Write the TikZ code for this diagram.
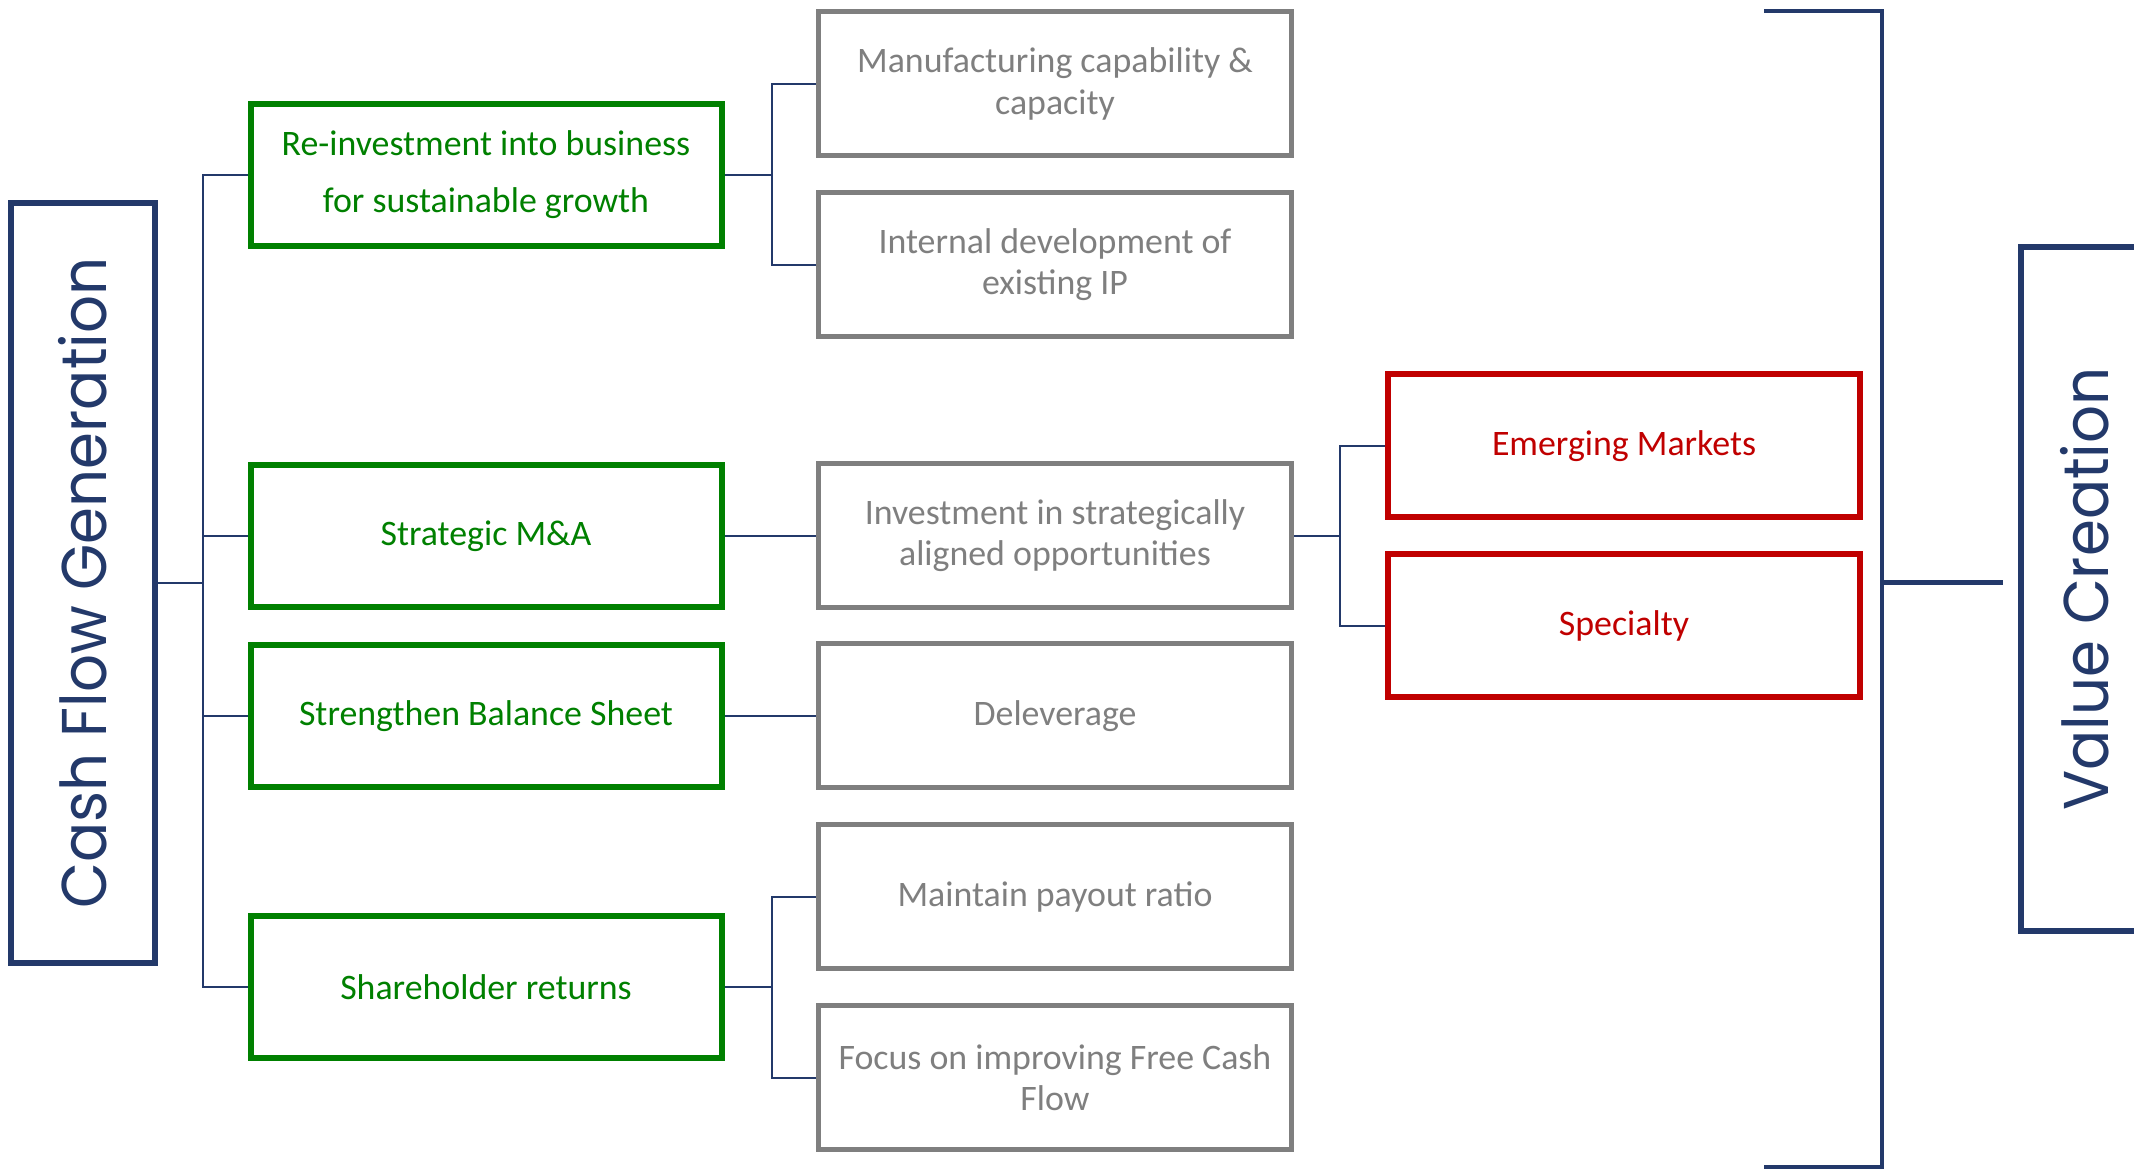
\documentclass[tikz,border=0pt]{standalone}
\usepackage{fontspec}
\setmainfont{Carlito}
\newfontfamily\headfont{Poppins}
\usepackage{graphicx}
\usetikzlibrary{positioning}
\definecolor{navy}{HTML}{23396A}
\definecolor{leafgreen}{HTML}{008000}
\definecolor{darkred}{HTML}{C00000}
\definecolor{midgray}{HTML}{7F7F7F}

\begin{document}
\begin{tikzpicture}[
x=0.1mm, y=-0.1mm,
node distance=56.9mm,
every node/.style={align=center, inner sep=2pt},
link/.style={draw=navy, line width=0.2mm}
]

% Define styles
\tikzstyle{titlebox} = [rectangle, draw=navy, line width=0.6mm, text=navy, font=\headfont\fontsize{18}{20}\selectfont]
\tikzstyle{usebox} = [rectangle, draw=leafgreen, line width=0.6mm, text=leafgreen, minimum width=47.1mm, minimum height=14.2mm, font=\fontsize{10.2}{16.2}\selectfont]
\tikzstyle{actionbox} = [rectangle, draw=midgray, line width=0.5mm, text=midgray, minimum width=47.3mm, minimum height=14.4mm, font=\fontsize{10.2}{11.7}\selectfont]
\tikzstyle{targetbox} = [rectangle, draw=darkred, line width=0.6mm, text=darkred, minimum width=47.2mm, minimum height=14.3mm, font=\fontsize{10.2}{11.7}\selectfont]
\tikzstyle{bracket} = [draw=navy, line width=0.4mm]

\useasboundingbox (0,0) rectangle (2134,1169);
\clip (0,0) rectangle (2134,1169);

% Source of cash
\node (cfg) [titlebox, minimum width=14.4mm, minimum height=76mm] at (83,583) {\rotatebox{90}{\scalebox{0.94}[1]{Cash Flow Generation}}};

% Uses of cash
\node (g1) [usebox] at (486,175) {Re-investment into business\\for sustainable growth};
\node (g2) [usebox] at (486,536) {Strategic M\&A};
\node (g3) [usebox] at (486,716) {Strengthen Balance Sheet};
\node (g4) [usebox] at (486,987) {Shareholder returns};

% Actions
\node (m1) [actionbox] at (1055,84) {Manufacturing capability \&\\capacity};
\node (m2) [actionbox] at (1055,265) {Internal development of\\existing IP};
\node (m3) [actionbox, right of=g2] {Investment in strategically\\aligned opportunities};
\node (m4) [actionbox, right of=g3] {Deleverage};
\node (m5) [actionbox] at (1055,897) {Maintain payout ratio};
\node (m6) [actionbox] at (1055,1078) {Focus on improving Free Cash\\Flow};

% Targets
\node (r1) [targetbox] at (1624,446) {Emerging Markets};
\node (r2) [targetbox] at (1624,626) {Specialty};

% Outcome
\node (vc) [titlebox, minimum width=12.8mm, minimum height=68.4mm] at (2085,589) {\rotatebox{90}{\scalebox{0.94}[1]{Value Creation}}};

% Tree lines
\coordinate (trunk) at (203,583);
\draw[link] (cfg.east) -- (trunk);
\foreach \g in {g1,g2,g3,g4}
  \draw[link] (trunk) |- (\g.west);

\coordinate (fork1) at (772,175);
\draw[link] (g1.east) -- (fork1) |- (m1.west) (fork1) |- (m2.west);

\draw[link] (g2) -- (m3);
\draw[link] (g3) -- (m4);

\coordinate (fork2) at (772,987);
\draw[link] (g4.east) -- (fork2) |- (m5.west) (fork2) |- (m6.west);

\coordinate (fork3) at (1340,536);
\draw[link] (m3.east) -- (fork3) |- (r1.west) (fork3) |- (r2.west);

% Bracket into the outcome
\coordinate (btop) at (1764,11);
\coordinate (bbot) at (1764,1167);
\draw[bracket] (btop) -- (1882,11) -- (1882,1167) -- (bbot);
\coordinate (bmid) at (1882,583);
\coordinate (vcin) at ([xshift=-1.5mm]vc.west);
\draw[bracket, line width=0.5mm] (bmid) -- (bmid -| vcin);

\end{tikzpicture}
\end{document}
